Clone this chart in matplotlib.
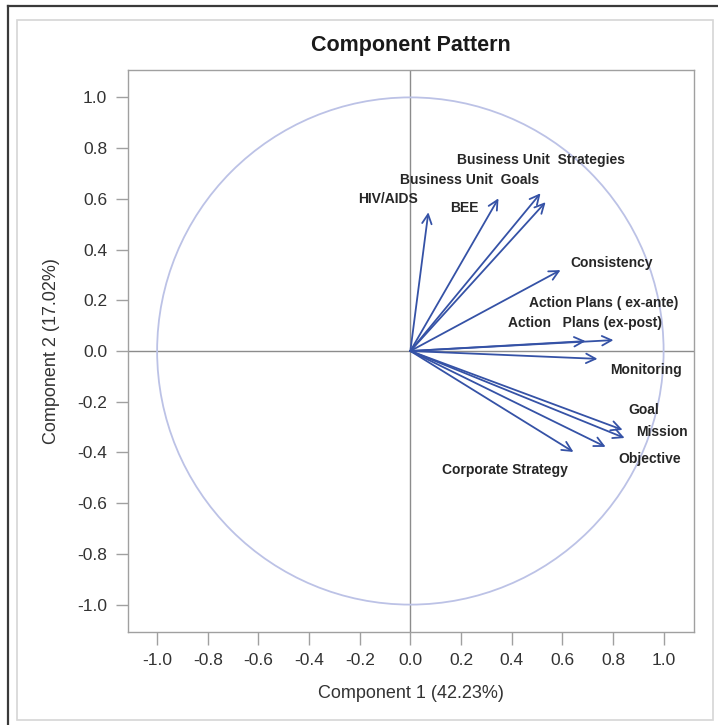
import numpy as np
import matplotlib
matplotlib.use("Agg")
import matplotlib.pyplot as plt
from matplotlib.patches import Circle, Rectangle
from matplotlib.lines import Line2D

# Component loadings (Component 1, Component 2)
variables = [
    "HIV/AIDS", "BEE", "Business Unit  Goals", "Business Unit  Strategies",
    "Consistency", "Action   Plans (ex-post)", "Action Plans ( ex-ante)",
    "Monitoring", "Goal", "Mission", "Objective", "Corporate Strategy",
]
comp1 = [0.071, 0.348, 0.514, 0.534, 0.593, 0.692, 0.802, 0.739, 0.838, 0.846, 0.771, 0.644]
comp2 = [0.547, 0.602, 0.622, 0.587, 0.319, 0.039, 0.043, -0.031, -0.311, -0.343, -0.378, -0.398]

# Where each variable's name is written (left edge, vertical centre)
label_x = [-0.206, 0.158, -0.040, 0.186, 0.632, 0.387, 0.470, 0.787, 0.862, 0.893, 0.822, 0.126]
label_y = [0.598, 0.563, 0.673, 0.752, 0.346, 0.110, 0.189, -0.075, -0.232, -0.319, -0.425, -0.469]

ticks = [-1.0, -0.8, -0.6, -0.4, -0.2, 0.0, 0.2, 0.4, 0.6, 0.8, 1.0]
var_pct = [42.23, 17.02]

plt.rcParams["font.family"] = ["Liberation Sans", "DejaVu Sans"]

W, H = 718, 725
fig = plt.figure(figsize=(W / 100, H / 100), dpi=100)
fig.patch.set_facecolor("white")

# Page frame: dark top/left edge and a light inner border
fig.add_artist(Line2D([8 / W, 1.0], [1 - 6 / H, 1 - 6 / H], transform=fig.transFigure,
                      color="#3a3a3a", lw=1.6))
fig.add_artist(Line2D([8 / W, 8 / W], [0.0, 1 - 6 / H], transform=fig.transFigure,
                      color="#3a3a3a", lw=1.6))
fig.add_artist(Rectangle((17 / W, 1 - 720 / H), (713 - 17) / W, (720 - 20) / H,
                         transform=fig.transFigure, fill=False, ec="#d6d6d6", lw=1.2))

ax = fig.add_axes([128 / W, 1 - 632 / H, (694 - 128) / W, (632 - 70) / H])
ax.set_xlim(-1.115, 1.12)
ax.set_ylim(-1.108, 1.108)

for s in ax.spines.values():
    s.set_color("#a0a0a0")
    s.set_linewidth(1.0)

ax.axhline(0, color="#8c8c8c", lw=1.0, zorder=1)
ax.axvline(0, color="#8c8c8c", lw=1.0, zorder=1)
ax.add_patch(Circle((0, 0), 1.0, fill=False, ec="#bcc2e6", lw=1.3, zorder=1))

arrow_color = "#3552a6"
for x, y in zip(comp1, comp2):
    ax.annotate("", xy=(x, y), xytext=(0, 0),
                arrowprops=dict(arrowstyle="->", color=arrow_color, lw=1.3,
                                mutation_scale=17, shrinkA=0, shrinkB=0),
                zorder=3)

for name, lx, ly in zip(variables, label_x, label_y):
    ax.text(lx, ly, name, ha="left", va="center", fontsize=10, fontweight="bold",
            color="#262626", zorder=4)

ax.set_xticks(ticks)
ax.set_yticks(ticks)
ax.set_xticklabels([f"{t:.1f}" for t in ticks])
ax.set_yticklabels([f"{t:.1f}" for t in ticks])
ax.tick_params(direction="out", length=9, width=1.0, color="#a0a0a0",
               labelsize=12.5, labelcolor="#333333", pad=6)

ax.set_xlabel(f"Component 1 ({var_pct[0]:.2f}%)", fontsize=13, color="#333333", labelpad=12)
ax.set_ylabel(f"Component 2 ({var_pct[1]:.2f}%)", fontsize=13, color="#333333", labelpad=12)
ax.set_title("Component Pattern", fontsize=15.5, fontweight="bold", color="#1a1a1a", pad=14)

fig.savefig("out.png", dpi=100, facecolor="white")
